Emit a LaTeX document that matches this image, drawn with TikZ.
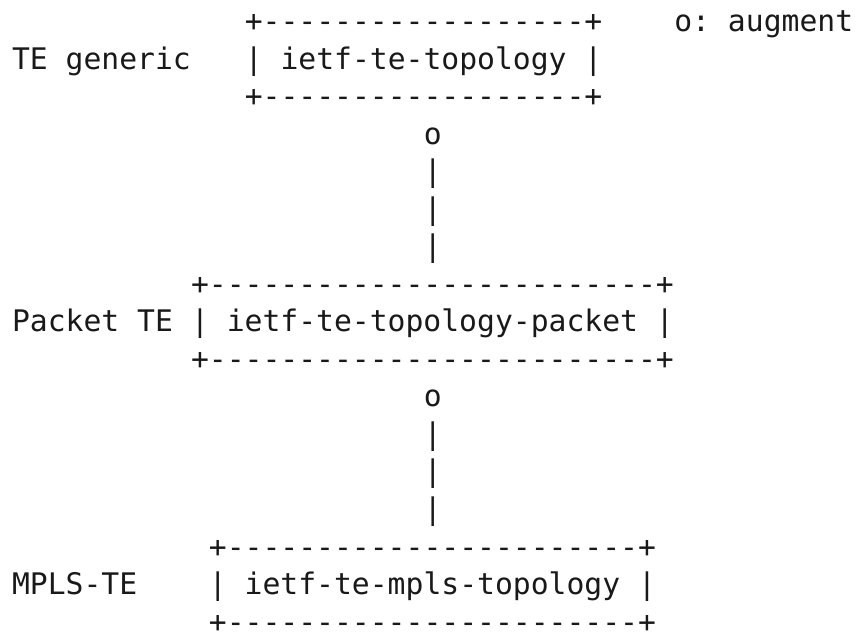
\documentclass[tikz,border=0pt]{standalone}
\usepackage{fontspec}
\setmonofont{DejaVu Sans Mono}
\begin{document}
\begin{tikzpicture}[
  txt/.style={anchor=base west, inner sep=0pt, outer sep=0pt,
    font=\ttfamily\fontsize{29.7}{37.5}\selectfont, text=black!90}
]
\useasboundingbox (0,0) rectangle (861pt,634pt);
\fill[white] (0,0) rectangle (861pt,634pt);
\begin{scope}[shift={(12.05pt,602pt)}, x=17.9pt, y=-37.5pt]
  % TE generic
  \node[txt] (t1top) at (13,0) {+------------------+};
  \node[txt] (legend) at (37,0) {o: augment};
  \node[txt] (lab1) at (0,1) {TE generic};
  \node[txt] (box1) at (13,1) {| ietf-te-topology |};
  \node[txt] (t1bot) at (13,2) {+------------------+};
  % augment link 1
  \node[txt] (aug1) at (23,3) {o};
  \node[txt] (bar1a) at (23,4) {|};
  \node[txt] (bar1b) at (23,5) {|};
  \node[txt] (bar1c) at (23,6) {|};
  % Packet TE
  \node[txt] (t2top) at (10,7) {+-------------------------+};
  \node[txt] (lab2) at (0,8) {Packet TE};
  \node[txt] (box2) at (10,8) {| ietf-te-topology-packet |};
  \node[txt] (t2bot) at (10,9) {+-------------------------+};
  % augment link 2
  \node[txt] (aug2) at (23,10) {o};
  \node[txt] (bar2a) at (23,11) {|};
  \node[txt] (bar2b) at (23,12) {|};
  \node[txt] (bar2c) at (23,13) {|};
  % MPLS-TE
  \node[txt] (t3top) at (11,14) {+-----------------------+};
  \node[txt] (lab3) at (0,15) {MPLS-TE};
  \node[txt] (box3) at (11,15) {| ietf-te-mpls-topology |};
  \node[txt] (t3bot) at (11,16) {+-----------------------+};
\end{scope}
\end{tikzpicture}
\end{document}
